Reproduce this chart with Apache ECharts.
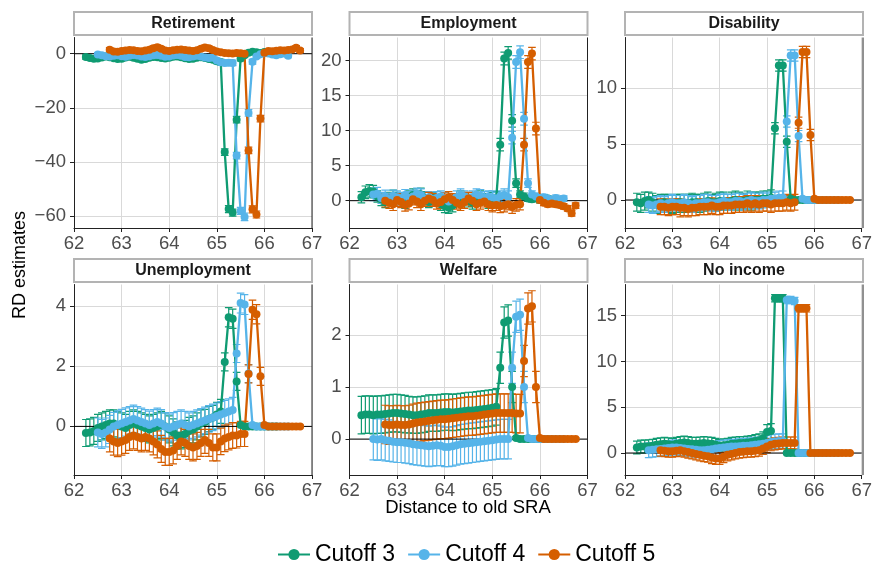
<!DOCTYPE html>
<html><head><meta charset="utf-8">
<script src="https://cdn.jsdelivr.net/npm/echarts@6/dist/echarts.min.js"></script>
<style>html,body{margin:0;padding:0;background:#fff}#c{width:875px;height:566px}</style>
</head><body><div id="c"></div>
<script>
// ---- categories / labels ----
const cutoffs = ['Cutoff 3', 'Cutoff 4', 'Cutoff 5'];
const firstAge = [62.25, 62.5, 62.75];          // first age (years) of each cutoff's series, monthly steps
const panelTitles = ['Retirement', 'Employment', 'Disability', 'Unemployment', 'Welfare', 'No income'];
const xTicks = [62, 63, 64, 65, 66, 67];
const yTicksRet = [-60, -40, -20, 0];
const yTicksEmp = [0, 5, 10, 15, 20];
const yTicksDis = [0, 5, 10];
const yTicksUne = [0, 2, 4];
const yTicksWel = [0, 1, 2];
const yTicksNoi = [0, 5, 10, 15];

// ---- Retirement ----
const retC3 = [-1.2,-1.6,-1.9,-1.8,-1.4,-1.0,-1.3,-1.7,-2.0,-1.9,-1.4,-1.1,-1.5,-1.9,-2.2,-2.0,-1.5,-1.2,-1.3,-1.6,-1.8,-1.5,-1.1,-1.0,-1.3,-1.7,-2.0,-1.9,-1.5,-1.3,-1.6,-2.0,-2.2,-2.8,-3.1,-36.4,-57.5,-58.8,-24.4,-1.8,-0.6,0.4,0.7,0.5,0.3,0.6,0.4,0.2,0.5];
const retC4 = [-0.3,-0.6,-0.9,-1.0,-0.8,-0.6,-0.9,-1.1,-0.8,-0.5,-0.7,-1.0,-1.2,-0.9,-0.6,-0.5,-0.8,-1.1,-1.0,-0.7,-0.5,-0.8,-1.2,-1.3,-1.0,-0.8,-1.0,-1.4,-1.6,-1.5,-2.5,-3.2,-3.4,-3.3,-3.4,-37.7,-58.2,-60.4,-21.9,-3.0,-1.0,-0.2,0.3,0.1,-0.3,-0.6,-0.2,0.1,-0.8];
const retC5 = [1.5,0.8,0.7,1.0,1.2,1.4,1.3,1.0,0.9,1.2,1.5,2.0,2.4,1.8,1.2,1.0,1.3,1.5,1.6,1.4,1.2,1.0,1.3,1.8,2.3,2.0,1.4,0.8,0.5,0.3,0.2,0.1,0.3,0.2,0.0,-35.8,-57.6,-59.5,-24.0,0.4,1.0,0.9,1.1,1.3,1.2,1.4,1.6,2.2,1.2];
const retC3ci = [0.8,0.8,0.7,0.7,0.8,0.8,0.7,0.7,0.8,0.8,0.7,0.7,0.8,0.8,0.7,0.7,0.8,0.8,0.7,0.7,0.8,0.8,0.7,0.7,0.8,0.8,0.7,0.7,0.8,0.8,0.7,0.8,0.9,0.9,1.0,1.2,1.3,1.3,1.2,0.9,0.7,0.6,0.6,0.6,0.7,0.6,0.6,0.7,0.6];
const retC4ci = [0.7,0.7,0.8,0.7,0.7,0.8,0.7,0.7,0.8,0.7,0.7,0.8,0.7,0.7,0.8,0.7,0.7,0.8,0.7,0.7,0.8,0.7,0.7,0.8,0.7,0.7,0.8,0.7,0.7,0.8,0.9,0.9,1.0,0.9,1.0,1.2,1.3,1.4,1.2,0.9,0.7,0.6,0.6,0.7,0.6,0.6,0.7,0.6,0.7];
const retC5ci = [0.8,0.7,0.7,0.8,0.8,0.7,0.7,0.8,0.8,0.7,0.8,0.9,0.9,0.8,0.7,0.7,0.8,0.8,0.7,0.7,0.8,0.8,0.7,0.8,0.9,0.9,0.8,0.7,0.7,0.7,0.8,0.8,0.7,0.7,0.8,1.2,1.3,1.3,1.2,0.8,0.7,0.7,0.6,0.7,0.7,0.6,0.7,0.8,0.7];

// ---- Employment ----
const empC3 = [0.5,1.2,1.4,1.3,0.6,0.2,-0.2,0.3,0.6,0.4,0.1,-0.3,0.5,0.8,0.6,0.9,0.4,-0.2,0.3,0.1,-0.5,-0.8,-1.0,-0.7,0.2,0.5,0.3,0.0,-0.3,0.4,0.6,0.2,-0.2,0.3,0.4,8.0,20.3,21.1,11.4,2.5,0.9,0.6,0.3,0.2,0.4,0.1,0.2,0.3,0.1];
const empC4 = [0.9,1.0,0.4,0.6,0.2,0.7,0.5,0.3,0.8,0.4,0.6,1.0,0.8,0.3,0.5,0.2,0.4,0.6,0.3,-0.1,0.2,0.5,0.8,0.6,0.3,0.5,0.9,0.7,0.4,0.6,0.5,0.3,0.6,0.8,0.5,9.0,19.8,21.2,11.7,2.5,0.9,0.6,0.4,0.5,0.3,0.1,0.4,0.2,0.3];
const empC5 = [0.0,-0.3,-0.5,0.1,-0.2,-0.6,-0.4,0.2,-0.1,-0.5,0.0,0.3,0.1,-0.4,-0.2,0.2,0.5,0.1,-0.3,-0.6,-0.2,0.3,0.0,-0.5,-0.3,-0.1,-0.5,-0.7,-0.6,-0.8,-0.7,-0.5,-0.9,-0.6,-0.5,8.0,19.8,21.0,10.3,0.1,-0.3,-0.5,-0.4,-0.5,-0.6,-0.8,-1.1,-1.8,-0.7];
const empC3ci = [0.8,0.9,0.9,0.9,0.8,0.9,0.8,0.9,0.9,0.8,0.9,0.8,0.9,0.9,0.8,0.9,0.9,0.8,0.9,0.8,0.9,0.9,0.8,0.9,0.8,0.9,0.8,0.9,0.9,0.8,0.9,0.8,0.9,0.9,0.9,0.9,0.9,0.9,0.9,0.6,0.5,0.5,0.4,0.4,0.4,0.4,0.4,0.4,0.4];
const empC4ci = [0.9,0.9,0.8,0.9,0.9,0.8,0.9,0.9,0.8,0.9,0.9,0.8,0.9,0.9,0.8,0.9,0.9,0.8,0.9,0.9,0.8,0.9,0.9,0.8,0.9,0.9,0.8,0.9,0.9,0.8,0.9,0.9,0.8,0.9,0.9,0.9,0.9,0.9,0.9,0.6,0.5,0.5,0.5,0.4,0.4,0.4,0.4,0.4,0.4];
const empC5ci = [0.9,0.8,0.9,0.9,0.8,0.9,0.9,0.8,0.9,0.9,0.8,0.9,0.9,0.8,0.9,0.9,0.8,0.9,0.9,0.8,0.9,0.9,0.8,0.9,0.9,0.8,0.9,0.9,0.8,0.9,0.9,0.8,0.9,0.9,0.8,0.9,0.9,0.9,0.9,0.4,0.4,0.4,0.4,0.4,0.4,0.4,0.4,0.4,0.4];

// ---- Disability ----
const disC3 = [-0.2,-0.3,-0.1,0.0,-0.2,-0.4,-0.3,-0.2,-0.3,-0.4,-0.3,-0.2,-0.3,-0.3,-0.2,-0.2,-0.3,-0.2,-0.1,-0.2,-0.2,-0.1,-0.1,-0.2,-0.1,0.0,-0.1,-0.1,0.0,-0.1,0.0,0.0,0.1,0.1,0.2,6.4,12.0,12.0,5.2,0.1,0,0,0,0,0,0,0,0,0];
const disC4 = [-0.4,-0.5,-0.4,-0.3,-0.4,-0.3,-0.2,-0.3,-0.3,-0.2,-0.3,-0.4,-0.3,-0.3,-0.2,-0.2,-0.3,-0.3,-0.2,-0.1,-0.2,-0.2,-0.1,-0.1,-0.2,-0.1,0.0,-0.1,-0.1,0.0,0.0,0.1,0.1,0.2,0.2,7.0,12.9,12.9,5.7,0.1,0,0,0,0,0,0,0,0,0];
const disC5 = [-0.6,-0.6,-0.7,-0.6,-0.6,-0.7,-0.7,-0.8,-0.7,-0.7,-0.6,-0.6,-0.6,-0.5,-0.6,-0.6,-0.5,-0.5,-0.5,-0.4,-0.4,-0.4,-0.3,-0.4,-0.3,-0.4,-0.3,-0.3,-0.4,-0.3,-0.3,-0.3,-0.2,-0.3,-0.2,6.9,13.2,13.2,5.8,0.1,0,0,0,0,0,0,0,0,0];
const disC3ci = [0.8,0.8,0.8,0.7,0.8,0.8,0.8,0.7,0.8,0.8,0.8,0.7,0.8,0.8,0.8,0.7,0.8,0.8,0.8,0.7,0.8,0.8,0.8,0.7,0.8,0.8,0.8,0.7,0.8,0.8,0.7,0.7,0.7,0.7,0.7,0.5,0.5,0.5,0.5,0.1,0.1,0.1,0.1,0.1,0.1,0.1,0.1,0.1,0.1];
const disC4ci = [0.7,0.7,0.7,0.7,0.7,0.7,0.7,0.7,0.7,0.7,0.7,0.7,0.7,0.7,0.7,0.7,0.7,0.7,0.7,0.7,0.7,0.7,0.7,0.7,0.7,0.7,0.7,0.7,0.7,0.7,0.6,0.6,0.6,0.6,0.6,0.5,0.5,0.5,0.5,0.1,0.1,0.1,0.1,0.1,0.1,0.1,0.1,0.1,0.1];
const disC5ci = [0.7,0.7,0.7,0.7,0.7,0.8,0.7,0.7,0.7,0.7,0.7,0.7,0.7,0.7,0.7,0.7,0.7,0.7,0.7,0.7,0.7,0.7,0.7,0.7,0.7,0.7,0.7,0.7,0.7,0.7,0.7,0.7,0.7,0.7,0.7,0.5,0.5,0.5,0.5,0.1,0.1,0.1,0.1,0.1,0.1,0.1,0.1,0.1,0.1];

// ---- Unemployment ----
const uneC3 = [-0.22,-0.2,-0.15,-0.05,0.0,0.05,0.1,0.1,0.05,0.0,-0.05,0.05,0.1,0.05,0.0,-0.05,-0.1,-0.05,0.0,0.05,0.0,-0.1,-0.2,-0.3,-0.3,-0.25,-0.15,-0.1,0.0,0.1,0.15,0.25,0.3,0.4,0.5,2.15,3.64,3.59,1.5,0.05,0,0,0,0,0,0,0,0,0];
const uneC4 = [-0.2,-0.25,-0.2,-0.1,0.0,0.05,0.1,0.15,0.2,0.25,0.2,0.15,0.1,0.05,0.1,0.15,0.1,0.0,-0.05,0.0,0.05,0.1,0.05,0.0,0.05,0.1,0.15,0.2,0.25,0.3,0.35,0.4,0.45,0.5,0.55,2.43,4.11,4.06,1.76,0.05,0,0,0,0,0,0,0,0,0];
const uneC5 = [-0.4,-0.5,-0.55,-0.5,-0.45,-0.35,-0.3,-0.35,-0.4,-0.35,-0.4,-0.5,-0.6,-0.75,-0.85,-0.85,-0.8,-0.65,-0.5,-0.55,-0.65,-0.7,-0.65,-0.55,-0.45,-0.55,-0.7,-0.7,-0.5,-0.4,-0.35,-0.3,-0.3,-0.25,-0.25,1.75,3.89,3.74,1.67,0.05,0,0,0,0,0,0,0,0,0];
const uneC3ci = [0.45,0.45,0.45,0.45,0.45,0.45,0.45,0.45,0.45,0.45,0.45,0.45,0.45,0.45,0.45,0.45,0.45,0.45,0.45,0.45,0.45,0.45,0.45,0.45,0.45,0.45,0.45,0.45,0.45,0.45,0.42,0.42,0.4,0.4,0.4,0.3,0.32,0.32,0.3,0.05,0.04,0.04,0.04,0.04,0.04,0.04,0.04,0.04,0.04];
const uneC4ci = [0.48,0.48,0.48,0.47,0.47,0.47,0.47,0.47,0.46,0.46,0.46,0.46,0.46,0.46,0.46,0.46,0.46,0.46,0.46,0.46,0.45,0.45,0.45,0.45,0.45,0.45,0.44,0.44,0.44,0.44,0.43,0.43,0.42,0.42,0.42,0.3,0.33,0.33,0.3,0.05,0.04,0.04,0.04,0.04,0.04,0.04,0.04,0.04,0.04];
const uneC5ci = [0.45,0.46,0.46,0.46,0.45,0.45,0.45,0.45,0.45,0.45,0.45,0.45,0.45,0.45,0.45,0.45,0.45,0.45,0.45,0.45,0.45,0.45,0.45,0.45,0.45,0.45,0.45,0.45,0.44,0.44,0.43,0.43,0.42,0.42,0.42,0.3,0.32,0.32,0.3,0.05,0.04,0.04,0.04,0.04,0.04,0.04,0.04,0.04,0.04];

// ---- Welfare ----
const welC3 = [0.46,0.47,0.47,0.46,0.47,0.47,0.48,0.49,0.5,0.5,0.49,0.48,0.47,0.46,0.46,0.47,0.48,0.5,0.5,0.5,0.51,0.52,0.52,0.51,0.52,0.53,0.54,0.55,0.55,0.56,0.57,0.58,0.59,0.6,0.62,1.37,2.24,2.28,1.0,0.02,0,0,0,0,0,0,0,0,0];
const welC4 = [0.0,-0.01,0.0,-0.02,-0.03,-0.05,-0.06,-0.06,-0.07,-0.08,-0.1,-0.11,-0.12,-0.13,-0.14,-0.13,-0.12,-0.13,-0.15,-0.15,-0.14,-0.12,-0.1,-0.09,-0.08,-0.07,-0.06,-0.05,-0.04,-0.03,-0.02,-0.01,0.0,0.0,0.0,1.37,2.35,2.39,1.0,0.02,0,0,0,0,0,0,0,0,0];
const welC5 = [0.28,0.27,0.27,0.28,0.27,0.27,0.28,0.3,0.32,0.33,0.34,0.35,0.36,0.37,0.38,0.38,0.39,0.4,0.41,0.42,0.43,0.44,0.44,0.45,0.46,0.47,0.48,0.49,0.5,0.5,0.5,0.5,0.5,0.49,0.49,1.5,2.51,2.55,1.0,0.02,0,0,0,0,0,0,0,0,0];
const welC3ci = [0.36,0.36,0.36,0.36,0.36,0.36,0.36,0.36,0.36,0.36,0.36,0.36,0.35,0.35,0.35,0.35,0.35,0.35,0.35,0.35,0.35,0.35,0.35,0.35,0.35,0.35,0.35,0.35,0.35,0.35,0.35,0.35,0.35,0.35,0.35,0.3,0.3,0.3,0.3,0.03,0.03,0.03,0.03,0.03,0.03,0.03,0.03,0.03,0.03];
const welC4ci = [0.4,0.4,0.4,0.4,0.4,0.39,0.39,0.39,0.39,0.39,0.39,0.39,0.39,0.39,0.39,0.39,0.39,0.38,0.38,0.38,0.38,0.38,0.38,0.38,0.38,0.38,0.38,0.38,0.38,0.38,0.38,0.38,0.38,0.38,0.38,0.3,0.3,0.3,0.3,0.03,0.03,0.03,0.03,0.03,0.03,0.03,0.03,0.03,0.03];
const welC5ci = [0.37,0.37,0.37,0.37,0.37,0.37,0.37,0.37,0.37,0.37,0.37,0.37,0.37,0.37,0.37,0.37,0.37,0.37,0.37,0.37,0.37,0.37,0.37,0.37,0.37,0.37,0.37,0.37,0.37,0.37,0.37,0.37,0.37,0.37,0.37,0.3,0.3,0.3,0.3,0.03,0.03,0.03,0.03,0.03,0.03,0.03,0.03,0.03,0.03];

// ---- No income ----
const noiC3 = [0.6,0.7,0.7,0.75,0.8,0.9,0.95,1.0,0.95,0.9,1.0,1.1,1.15,1.1,1.0,1.0,1.05,1.1,1.05,1.0,0.9,0.8,0.85,0.9,1.0,1.05,1.1,1.1,1.15,1.2,1.3,1.4,1.6,2.3,2.4,16.9,16.9,16.9,0.0,0,0,0,0,0,0,0,0,0,0];
const noiC4 = [0.3,0.35,0.4,0.45,0.5,0.55,0.6,0.6,0.55,0.5,0.45,0.4,0.35,0.3,0.3,0.35,0.4,0.5,0.55,0.6,0.65,0.7,0.7,0.75,0.8,0.8,0.85,0.9,0.95,1.0,1.1,1.2,1.25,1.3,1.3,16.7,16.7,16.6,0.0,0,0,0,0,0,0,0,0,0,0];
const noiC5 = [0.3,0.25,0.2,0.2,0.25,0.3,0.2,0.1,0.0,-0.1,-0.2,-0.3,-0.35,-0.5,-0.6,-0.6,-0.4,-0.2,-0.1,0.0,0.1,0.15,0.2,0.2,0.25,0.3,0.5,0.7,0.9,1.0,1.05,1.1,1.1,1.1,1.1,15.8,15.8,15.8,0.0,0,0,0,0,0,0,0,0,0,0];
const noiC3ci = [0.7,0.7,0.7,0.7,0.7,0.7,0.7,0.7,0.7,0.7,0.7,0.7,0.7,0.7,0.7,0.7,0.7,0.7,0.7,0.7,0.7,0.7,0.7,0.7,0.7,0.7,0.7,0.7,0.7,0.7,0.7,0.7,0.7,0.8,0.8,0.4,0.4,0.4,0.1,0.1,0.1,0.1,0.1,0.1,0.1,0.1,0.1,0.1,0.1];
const noiC4ci = [0.8,0.8,0.8,0.8,0.8,0.8,0.8,0.8,0.8,0.8,0.8,0.8,0.8,0.8,0.8,0.8,0.8,0.8,0.8,0.8,0.8,0.8,0.8,0.8,0.8,0.8,0.8,0.8,0.8,0.8,0.8,0.8,0.8,0.8,0.8,0.4,0.4,0.4,0.1,0.1,0.1,0.1,0.1,0.1,0.1,0.1,0.1,0.1,0.1];
const noiC5ci = [0.65,0.65,0.65,0.65,0.65,0.65,0.65,0.65,0.65,0.65,0.65,0.65,0.65,0.65,0.65,0.65,0.65,0.65,0.65,0.65,0.65,0.65,0.65,0.65,0.65,0.65,0.65,0.65,0.65,0.65,0.65,0.65,0.65,0.65,0.65,0.4,0.4,0.4,0.1,0.1,0.1,0.1,0.1,0.1,0.1,0.1,0.1,0.1,0.1];

// ---- assembly ----
const panels = [
  {vals:[retC3,retC4,retC5], ci:[retC3ci,retC4ci,retC5ci], min:-64.5, max:6, ticks:yTicksRet},
  {vals:[empC3,empC4,empC5], ci:[empC3ci,empC4ci,empC5ci], min:-3.9, max:23.3, ticks:yTicksEmp},
  {vals:[disC3,disC4,disC5], ci:[disC3ci,disC4ci,disC5ci], min:-2.5, max:14.5, ticks:yTicksDis},
  {vals:[uneC3,uneC4,uneC5], ci:[uneC3ci,uneC4ci,uneC5ci], min:-1.62, max:4.73, ticks:yTicksUne},
  {vals:[welC3,welC4,welC5], ci:[welC3ci,welC4ci,welC5ci], min:-0.69, max:2.97, ticks:yTicksWel},
  {vals:[noiC3,noiC4,noiC5], ci:[noiC3ci,noiC4ci,noiC5ci], min:-2.4, max:18.4, ticks:yTicksNoi}
];
const colors = ['#0f9b72', '#56B4E9', '#D55E00'];
const FONT = '"Liberation Sans", Arial, Helvetica, sans-serif';
const lefts = [74, 349.5, 625], tops = [37.5, 284.5], W = 238, H = 190.5;

const grid = [], xAxis = [], yAxis = [], series = [], graphic = [];
panels.forEach((p, k) => {
  const L = lefts[k % 3], T = tops[Math.floor(k / 3)];
  grid.push({left: L, top: T, width: W, height: H, containLabel: false});
  xAxis.push({
    type: 'value', gridIndex: k, min: 62, max: 67, interval: 1,
    axisLine: {show: true, onZero: false, lineStyle: {color: '#222', width: 1}},
    axisTick: {show: true, length: 4, lineStyle: {color: '#222'}},
    axisLabel: {fontSize: 18.5, color: '#4d4d4d', margin: 6, fontFamily: FONT},
    splitLine: {show: true, lineStyle: {color: '#d9d9d9', width: 1}}
  });
  yAxis.push({
    type: 'value', gridIndex: k, min: p.min, max: p.max,
    axisLine: {show: true, onZero: false, lineStyle: {color: '#222', width: 1}},
    axisTick: {show: true, length: 4, lineStyle: {color: '#222'}, customValues: p.ticks},
    axisLabel: {fontSize: 18.5, color: '#4d4d4d', margin: 8, fontFamily: FONT, customValues: p.ticks,
      formatter: v => String(v).replace('-', '\u2212')},
    splitLine: {show: true, lineStyle: {color: '#d9d9d9', width: 1}}
  });
  // strip
  graphic.push({type: 'rect', shape: {x: L, y: T - 25.5, width: W, height: 23},
    style: {fill: '#fff', stroke: '#b3b3b3', lineWidth: 2}, z: 10});
  graphic.push({type: 'text', x: L + W / 2, y: T - 14,
    style: {text: panelTitles[k], font: 'bold 16px ' + FONT, fill: '#1a1a1a', align: 'center', verticalAlign: 'middle'}, z: 11});
  // right border
  graphic.push({type: 'line', shape: {x1: L + W, y1: T, x2: L + W, y2: T + H},
    style: {stroke: '#222', lineWidth: 1}, z: 10});
});

function ebRender(params, api) {
  const x = api.value(0), lo = api.value(1), hi = api.value(2);
  const a = api.coord([x, lo]), b = api.coord([x, hi]);
  const w = 3.8;
  const st = {stroke: api.visual('color'), lineWidth: 1.2};
  return {type: 'group', children: [
    {type: 'line', shape: {x1: a[0], y1: a[1], x2: b[0], y2: b[1]}, style: st},
    {type: 'line', shape: {x1: a[0] - w, y1: a[1], x2: a[0] + w, y2: a[1]}, style: st},
    {type: 'line', shape: {x1: b[0] - w, y1: b[1], x2: b[0] + w, y2: b[1]}, style: st}
  ]};
}

panels.forEach((p, k) => {
  // lines + points
  p.vals.forEach((vals, c) => {
    series.push({
      type: 'line', name: cutoffs[c], xAxisIndex: k, yAxisIndex: k,
      data: vals.map((v, i) => [firstAge[c] + i / 12, v]),
      symbol: 'circle', symbolSize: 8, showSymbol: true,
      lineStyle: {width: 2.3, color: colors[c]}, itemStyle: {color: colors[c]},
      animation: false, silent: true, clip: true
    });
  });
  // error bars
  p.vals.forEach((vals, c) => {
    series.push({
      type: 'custom', name: 'ci' + c, xAxisIndex: k, yAxisIndex: k,
      data: vals.map((v, i) => [firstAge[c] + i / 12, v - p.ci[c][i], v + p.ci[c][i]]),
      encode: {x: 0, y: [1, 2]}, renderItem: ebRender, clip: true,
      itemStyle: {color: colors[c]}, animation: false, silent: true
    });
  });
  // zero reference line
  series.push({
    type: 'line', name: 'zero', xAxisIndex: k, yAxisIndex: k,
    data: [[62, 0], [67, 0]], symbol: 'none',
    lineStyle: {color: '#000', width: 1}, animation: false, silent: true, z: 3
  });
});

graphic.push({type: 'text', x: 20, y: 265, rotation: Math.PI / 2,
  style: {text: 'RD estimates', font: '18px ' + FONT, fill: '#000', align: 'center', verticalAlign: 'middle'}});
graphic.push({type: 'text', x: 468, y: 508,
  style: {text: 'Distance to old SRA', font: '18.5px ' + FONT, fill: '#000', align: 'center', verticalAlign: 'middle'}});

const chart = echarts.init(document.getElementById('c'), null, {renderer: 'canvas'});
chart.setOption({
  animation: false,
  backgroundColor: '#fff',
  textStyle: {fontFamily: FONT},
  grid, xAxis, yAxis, series, graphic,
  legend: {
    data: cutoffs, left: 272, top: 538, itemWidth: 32, itemHeight: 14, itemGap: 12,
    textStyle: {fontSize: 23, color: '#000', fontFamily: FONT}
  }
});
</script></body></html>
